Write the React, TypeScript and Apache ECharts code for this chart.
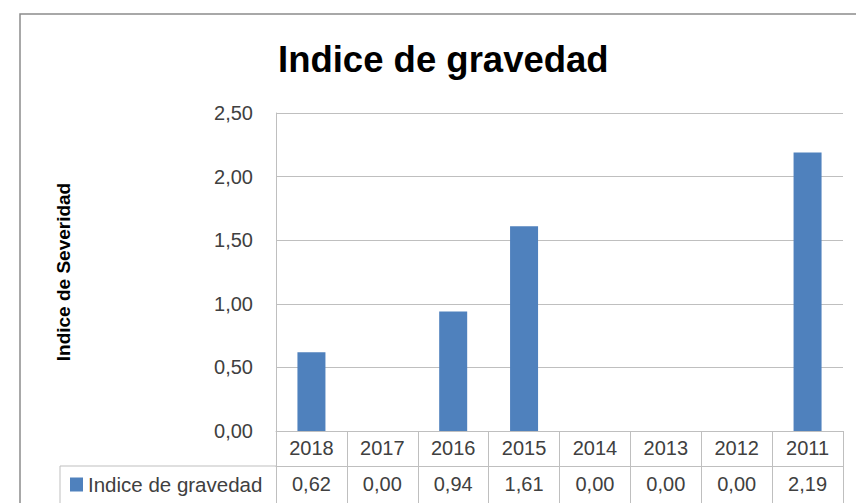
import React, { useEffect, useRef } from "react";
import * as echarts from "echarts";

const years = ["2018", "2017", "2016", "2015", "2014", "2013", "2012", "2011"];
const gravedad = [0.62, 0.0, 0.94, 1.61, 0.0, 0.0, 0.0, 2.19];
const seriesName = "Indice de gravedad";
const titleText = "Indice de gravedad";
const yAxisTitle = "Indice de Severidad";
const yMin = 0;
const yMax = 2.5;
const yInterval = 0.5;

const fmt = (v: number) => v.toFixed(2).replace(".", ",");

const FONT = "'Liberation Sans', Arial, sans-serif";
const LINE = "#BFBFBF";
const TXT = "#404040";

export default function App() {
  const ref = useRef<HTMLDivElement>(null);
  useEffect(() => {
    document.body.style.margin = "0";
    if (!ref.current) return;
    const chart = echarts.init(ref.current, undefined, { renderer: "svg" });
    chart.setOption({
      animation: false,
      backgroundColor: "#ffffff",
      textStyle: { fontFamily: FONT },
      title: {
        text: titleText,
        left: 278,
        top: 41,
        padding: 0,
        textStyle: { fontFamily: FONT, fontSize: 36.5, fontWeight: "bold", color: "#000000" },
      },
      legend: {
        data: [seriesName],
        left: 70,
        top: 474,
        padding: 0,
        itemWidth: 13,
        itemHeight: 14,
        icon: "rect",
        selectedMode: false,
        textStyle: { fontFamily: FONT, fontSize: 20.5, color: TXT, padding: [0, 0, 0, 0] },
      },
      grid: { left: 276, right: 13, top: 113, bottom: 72, containLabel: false },
      xAxis: [
        {
          type: "category",
          data: years,
          position: "bottom",
          axisLine: { show: true, lineStyle: { color: LINE, width: 1 } },
          axisTick: { show: true, interval: 0, length: 35, lineStyle: { color: LINE } },
          axisLabel: { interval: 0, margin: 7, fontSize: 20, lineHeight: 20, color: TXT, fontFamily: FONT },
          splitLine: { show: false },
        },
        {
          type: "category",
          data: years,
          position: "bottom",
          offset: 35,
          axisLine: { show: true, lineStyle: { color: LINE, width: 1 } },
          axisTick: { show: true, interval: 0, length: 40, lineStyle: { color: LINE } },
          axisLabel: {
            interval: 0,
            margin: 8,
            fontSize: 20,
            lineHeight: 20,
            color: TXT,
            fontFamily: FONT,
            formatter: (_v: string, i: number) => fmt(gravedad[i]),
          },
          splitLine: { show: false },
        },
      ],
      yAxis: {
        type: "value",
        min: yMin,
        max: yMax,
        interval: yInterval,
        name: yAxisTitle,
        nameLocation: "middle",
        nameRotate: 90,
        nameGap: 203,
        nameTextStyle: { fontFamily: FONT, fontSize: 19, fontWeight: "bold", color: "#000000" },
        axisLine: { show: true, lineStyle: { color: LINE } },
        axisTick: { show: false },
        axisLabel: { margin: 23, fontSize: 20, color: TXT, fontFamily: FONT, formatter: (v: number) => fmt(v) },
        splitLine: { show: true, lineStyle: { color: LINE, width: 1 } },
      },
      series: [
        {
          name: seriesName,
          type: "bar",
          xAxisIndex: 0,
          data: gravedad,
          barWidth: 28,
          itemStyle: { color: "#4F81BD", borderWidth: 0 },
        },
      ],
      graphic: [
        {
          type: "rect",
          shape: { x: 20, y: 14, width: 900, height: 600 },
          style: { fill: "none", stroke: "#8C8C8C", lineWidth: 1.5 },
          z: 10,
        },
        {
          type: "polyline",
          shape: { points: [[60, 510], [60, 466], [276, 466]] },
          style: { fill: "none", stroke: LINE, lineWidth: 1 },
          z: 10,
        },
      ],
    });
    return () => chart.dispose();
  }, []);
  return <div ref={ref} style={{ width: 856, height: 503 }} />;
}
